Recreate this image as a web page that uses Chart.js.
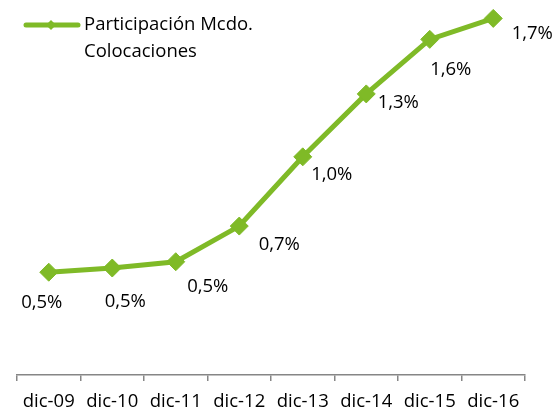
<!DOCTYPE html>
<html>
<head>
<meta charset="utf-8">
<script src="https://cdn.jsdelivr.net/npm/chart.js@4/dist/chart.umd.min.js"></script>
<style>
  html, body { margin: 0; padding: 0; background: #fff; }
  #wrap { width: 553px; height: 409px; }
</style>
</head>
<body>
<div id="wrap"><canvas id="chart"></canvas></div>
<script>
const categories = ['dic-09', 'dic-10', 'dic-11', 'dic-12', 'dic-13', 'dic-14', 'dic-15', 'dic-16'];
const participacion = [0.49, 0.51, 0.54, 0.71, 1.04, 1.34, 1.60, 1.70];
const legendLines = ['Participación Mcdo.', 'Colocaciones'];

const green = '#7fba27';
const font = '"Open Sans", sans-serif';
const fontSize = 18.5;

// where each value label sits relative to its point (px)
const labelOffsets = [[-7, 31], [13, 34], [32, 25], [40, 19], [29, 18], [32, 9], [21, 30], [39, 15]];

const fmt = v => v.toFixed(1).replace('.', ',') + '%';

const valueLabels = {
  id: 'valueLabels',
  afterDatasetsDraw(chart) {
    const ctx = chart.ctx;
    const pts = chart.getDatasetMeta(0).data;
    ctx.save();
    ctx.font = fontSize + 'px ' + font;
    ctx.fillStyle = '#000';
    ctx.textAlign = 'center';
    ctx.textBaseline = 'middle';
    pts.forEach((p, i) => {
      const o = labelOffsets[i];
      ctx.fillText(fmt(participacion[i]), p.x + o[0], p.y + o[1]);
    });
    ctx.restore();
  }
};

const sideLegend = {
  id: 'sideLegend',
  afterDraw(chart) {
    const ctx = chart.ctx;
    ctx.save();
    ctx.strokeStyle = green;
    ctx.lineWidth = 5;
    ctx.lineCap = 'round';
    ctx.beginPath();
    ctx.moveTo(26, 25);
    ctx.lineTo(78, 25);
    ctx.stroke();
    ctx.fillStyle = green;
    ctx.beginPath();
    ctx.moveTo(51, 20); ctx.lineTo(56, 25); ctx.lineTo(51, 30); ctx.lineTo(46, 25);
    ctx.closePath();
    ctx.fill();
    ctx.font = fontSize + 'px ' + font;
    ctx.fillStyle = '#000';
    ctx.textBaseline = 'middle';
    legendLines.forEach((t, i) => ctx.fillText(t, 84, 25 + i * 27));
    ctx.restore();
  }
};

new Chart(document.getElementById('chart'), {
  type: 'line',
  data: {
    labels: categories,
    datasets: [{
      label: legendLines.join(' '),
      data: participacion,
      borderColor: green,
      backgroundColor: green,
      borderWidth: 5,
      pointStyle: 'rectRot',
      pointRadius: 9,
      pointBorderWidth: 1,
      pointHoverRadius: 9,
      tension: 0,
      clip: false
    }]
  },
  options: {
    responsive: true,
    maintainAspectRatio: false,
    animation: false,
    layout: { padding: { left: 17, right: 28, top: 0, bottom: 0 } },
    plugins: {
      legend: { display: false },
      tooltip: { enabled: false }
    },
    scales: {
      x: {
        offset: true,
        afterFit(scale) { scale.height = 34; },
        grid: {
          offset: true,
          drawOnChartArea: false,
          drawTicks: true,
          tickLength: 6,
          color: '#868686',
          lineWidth: 1.5
        },
        border: { color: '#868686', width: 1.5 },
        ticks: {
          color: '#000',
          font: { family: font, size: fontSize },
          padding: 10,
          maxRotation: 0
        }
      },
      y: {
        display: false,
        min: 0,
        max: 1.74
      }
    }
  },
  plugins: [valueLabels, sideLegend]
});
</script>
</body>
</html>
